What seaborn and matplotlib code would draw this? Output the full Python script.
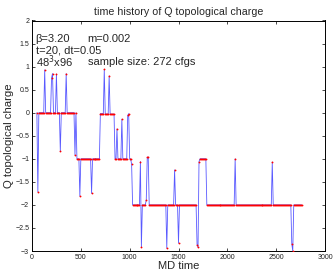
import numpy as np
import pandas as pd
import matplotlib
matplotlib.use("Agg")
import matplotlib.pyplot as plt
import seaborn as sns

# ---- data (run-length encoded Q values per configuration) ----
run_values = [0, -1.72, 0, 0.93, 0, 0.75, 0.85, 0, 0.84, 0, -0.84, 0, 0.85, 0, -0.92, 0,
              -1, -1.81, -1, -1.75, -1, -0.02, 0.94, -0.03, 0.8, -0.03, -1, -0.35, -1, -0.14,
              -1, -0.06, -0.02, -1, -1.12, -2, -1.06, -2.92, -2, -1.89, -0.97, -0.96, -2, -2.94,
              -2, -1.24, -2, -2.83, -2, -2.86, -2.92, -1.06, -1, -2, -1.0, -2, -1.07, -2,
              -2.85, -3.0, -2]
run_lengths = [1, 1, 6, 1, 6, 1, 1, 3, 1, 3, 1, 5, 1, 8, 1, 1,
               3, 1, 11, 1, 8, 4, 1, 4, 1, 5, 2, 1, 4, 1,
               5, 1, 1, 2, 1, 8, 1, 1, 4, 1, 1, 1, 18, 1,
               7, 1, 3, 1, 18, 1, 1, 1, 7, 29, 1, 37, 1, 19,
               1, 1, 9]
md_time_start = 50
md_time_step = 10

x_ticks = [0, 500, 1000, 1500, 2000, 2500, 3000]
y_ticks = [-3, -2.5, -2, -1.5, -1, -0.5, 0, 0.5, 1, 1.5, 2]

q = np.repeat(run_values, run_lengths)
t = md_time_start + md_time_step * np.arange(len(q))
df = pd.DataFrame({"MD time": t, "Q": q})

sns.set_style("ticks")
plt.rcParams["font.family"] = ["Liberation Sans", "DejaVu Sans"]

fig = plt.figure(figsize=(3.35, 2.73), dpi=100)
ax = fig.add_axes([32 / 335, 1 - 251 / 273, 293 / 335, 230.5 / 273])

sns.lineplot(data=df, x="MD time", y="Q", ax=ax, color="#3030ff", lw=0.6,
             alpha=0.8, estimator=None, sort=False)
sns.scatterplot(data=df, x="MD time", y="Q", ax=ax, color="red", s=1.8,
                linewidth=0, zorder=3)

ax.set_xlim(0, 3000)
ax.set_ylim(-3, 2)
ax.set_xticks(x_ticks)
ax.set_xticklabels([str(v) for v in x_ticks])
ax.set_yticks(y_ticks)
ax.set_yticklabels([("%g" % v).replace("-", "\u2212") for v in y_ticks])
ax.tick_params(direction="in", length=2.5, width=0.5, labelsize=5,
               top=True, right=True, pad=2, color="black", labelcolor="#222222")
for s in ax.spines.values():
    s.set_linewidth(0.7)
    s.set_color("black")

ax.set_title("time history of Q topological charge", fontsize=7.7, pad=4)
ax.set_xlabel("MD time", fontsize=8, labelpad=0)
ax.set_ylabel("Q topological charge", fontsize=8.2, labelpad=1)

tf = ax.transAxes
fs = 8
ax.text(0.012, 0.92, "\u03b2=3.20", transform=tf, fontsize=fs, va="center", ha="left")
ax.text(0.187, 0.92, "m=0.002", transform=tf, fontsize=fs, va="center", ha="left")
ax.text(0.012, 0.872, "t=20, dt=0.05", transform=tf, fontsize=fs, va="center", ha="left")
ax.text(0.012, 0.82, "48$^3$x96", transform=tf, fontsize=fs, va="center", ha="left")
ax.text(0.19, 0.82, "sample size: 272 cfgs", transform=tf, fontsize=fs, va="center", ha="left")

fig.savefig("out.png", dpi=100)
